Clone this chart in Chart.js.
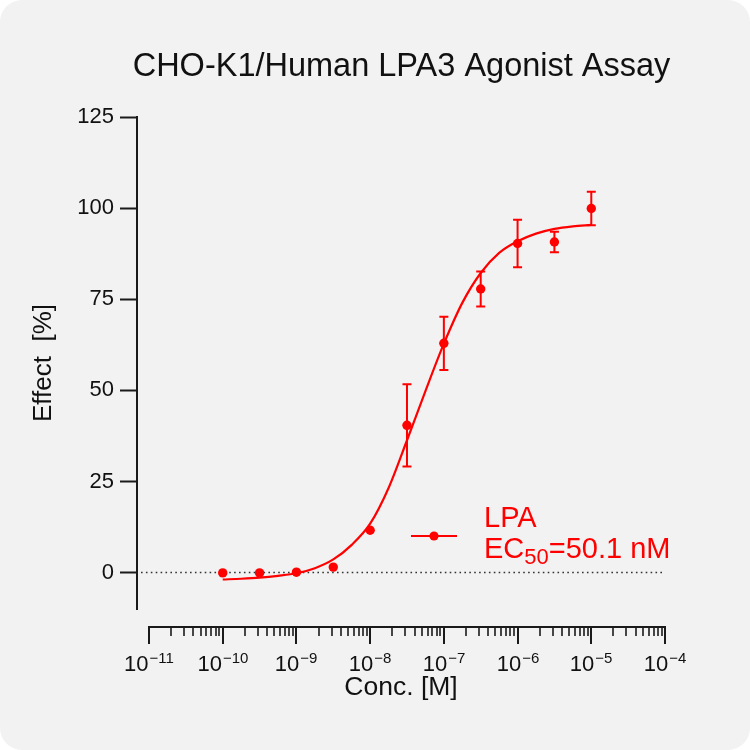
<!DOCTYPE html>
<html><head><meta charset="utf-8">
<script src="https://cdn.jsdelivr.net/npm/chart.js@4.4.1/dist/chart.umd.min.js"></script>
<style>
html,body{margin:0;padding:0;background:#ffffff;}
#wrap{width:750px;height:750px;background:#f2f2f2;border-radius:22px;overflow:hidden;}
canvas{display:block;}
</style></head><body>
<div id="wrap"><canvas id="c" width="750" height="750"></canvas></div>
<script>
// ---- data ----
const titleText = 'CHO-K1/Human LPA3 Agonist Assay';
const xTitle = 'Conc. [M]';
const yTitle = 'Effect  [%]';
const seriesName = 'LPA';
const ec50Text = '=50.1 nM';
const conc = [1e-10, 3.16e-10, 1e-9, 3.16e-9, 1e-8, 3.16e-8, 1e-7, 3.16e-7, 1e-6, 3.16e-6, 1e-5];
const effect = [-0.1, -0.1, 0.1, 1.5, 11.6, 40.4, 62.9, 77.8, 90.3, 90.7, 99.9];
const effectSD = [0, 0, 0, 0, 0, 11.3, 7.3, 4.8, 6.5, 2.8, 4.6];
const curveLogConc = [-10, -9.75, -9.5, -9.25, -9, -8.75, -8.5, -8.25, -8, -7.75, -7.5, -7.25, -7, -6.75, -6.5, -6.25, -6, -5.75, -5.5, -5.25, -5];
const curveEffect = [-1.9, -1.7, -1.4, -0.9, -0.2, 1.2, 3.6, 7.6, 13.4, 23.2, 36.3, 49.8, 62.8, 74.0, 82.2, 87.7, 90.9, 93.0, 94.3, 95.0, 95.4];
const yTicks = [0, 25, 50, 75, 100, 125];
const xTickExponents = [-11, -10, -9, -8, -7, -6, -5, -4];
const minorMultipliers = [2, 3, 4, 5, 6, 7, 8, 9];

const FONT = '"Liberation Sans", Arial, Helvetica, sans-serif';
const AXIS = '#1a1a1a';
const TEXT = '#111111';
const RED = '#ff0000';

const decor = {
  id: 'decor',
  beforeDatasetsDraw(chart) {
    const {ctx, chartArea: ca, scales: {x, y}} = chart;
    const y0 = y.getPixelForValue(0);
    const xEnd = x.getPixelForValue(Math.pow(10, xTickExponents[xTickExponents.length - 1]));
    ctx.save();
    ctx.strokeStyle = '#333333';
    ctx.lineWidth = 1.6;
    ctx.setLineDash([1.6, 3.3]);
    ctx.beginPath();
    ctx.moveTo(ca.left + 4, y0);
    ctx.lineTo(xEnd - 3, y0);
    ctx.stroke();
    ctx.restore();
  },
  afterDatasetsDraw(chart) {
    const {ctx, scales: {x, y}} = chart;
    ctx.save();
    ctx.strokeStyle = RED;
    ctx.lineWidth = 2;
    conc.forEach((c, i) => {
      const sd = effectSD[i];
      if (!sd) return;
      const px = x.getPixelForValue(c);
      const top = y.getPixelForValue(effect[i] + sd);
      const bot = y.getPixelForValue(effect[i] - sd);
      ctx.beginPath();
      ctx.moveTo(px, top); ctx.lineTo(px, bot);
      ctx.moveTo(px - 4.5, top); ctx.lineTo(px + 4.5, top);
      ctx.moveTo(px - 4.5, bot); ctx.lineTo(px + 4.5, bot);
      ctx.stroke();
    });
    ctx.restore();
  },
  afterDraw(chart) {
    const {ctx, chartArea: ca, scales: {x}} = chart;
    ctx.save();
    // chart title, centred over the plot area
    ctx.fillStyle = TEXT;
    ctx.font = '32.5px ' + FONT;
    ctx.textAlign = 'center';
    ctx.textBaseline = 'alphabetic';
    ctx.fillText(titleText, (ca.left + ca.right) / 2 + 0.5, ca.top - 41);

    const axisY = ca.bottom + 18;
    const first = Math.pow(10, xTickExponents[0]);
    const last = Math.pow(10, xTickExponents[xTickExponents.length - 1]);
    ctx.strokeStyle = AXIS;
    ctx.lineWidth = 2;
    ctx.beginPath();
    ctx.moveTo(x.getPixelForValue(first) - 1, axisY);
    ctx.lineTo(x.getPixelForValue(last) + 1, axisY);
    ctx.stroke();
    // major ticks + labels (10 with superscript exponent)
    xTickExponents.forEach(e => {
      const px = Math.round(x.getPixelForValue(Math.pow(10, e)));
      ctx.beginPath();
      ctx.moveTo(px, axisY); ctx.lineTo(px, axisY + 17);
      ctx.stroke();
      ctx.fillStyle = TEXT;
      ctx.textBaseline = 'alphabetic';
      ctx.textAlign = 'left';
      const base = '10';
      const exp = '\u2212' + String(Math.abs(e));
      ctx.font = '22px ' + FONT;
      const wb = ctx.measureText(base).width;
      ctx.font = '15px ' + FONT;
      const we = ctx.measureText(exp).width;
      const start = px - (wb + 1 + we) / 2;
      ctx.font = '22px ' + FONT;
      ctx.fillText(base, start, axisY + 44);
      ctx.font = '15px ' + FONT;
      ctx.fillText(exp, start + wb + 1, axisY + 36);
    });
    // minor ticks
    ctx.lineWidth = 1.6;
    for (let k = 0; k < xTickExponents.length - 1; k++) {
      minorMultipliers.forEach(m => {
        const px = Math.round(x.getPixelForValue(m * Math.pow(10, xTickExponents[k])));
        ctx.beginPath();
        ctx.moveTo(px, axisY); ctx.lineTo(px, axisY + 9);
        ctx.stroke();
      });
    }
    // legend
    const lx = ca.left + 274;
    const ly = ca.top + 419;
    ctx.strokeStyle = RED;
    ctx.lineWidth = 2;
    ctx.beginPath();
    ctx.moveTo(lx, ly); ctx.lineTo(lx + 46, ly);
    ctx.stroke();
    ctx.fillStyle = RED;
    ctx.beginPath();
    ctx.arc(lx + 23, ly, 4.6, 0, Math.PI * 2);
    ctx.fill();
    ctx.textAlign = 'left';
    ctx.textBaseline = 'alphabetic';
    ctx.font = '29px ' + FONT;
    ctx.fillText(seriesName, lx + 73, ly - 9);
    let tx = lx + 73;
    ctx.fillText('EC', tx, ly + 22);
    tx += ctx.measureText('EC').width;
    ctx.font = '22px ' + FONT;
    ctx.fillText('50', tx, ly + 28);
    tx += ctx.measureText('50').width;
    ctx.font = '29px ' + FONT;
    ctx.fillText(ec50Text, tx, ly + 22);
    ctx.restore();
  }
};

new Chart(document.getElementById('c'), {
  type: 'line',
  data: {
    datasets: [
      {
        label: seriesName + ' fit',
        data: curveLogConc.map((e, i) => ({x: Math.pow(10, e), y: curveEffect[i]})),
        borderColor: RED,
        borderWidth: 2.2,
        pointRadius: 0,
        cubicInterpolationMode: 'monotone',
        fill: false
      },
      {
        label: seriesName,
        data: conc.map((c, i) => ({x: c, y: effect[i]})),
        showLine: false,
        pointRadius: 4.7,
        pointBackgroundColor: RED,
        pointBorderWidth: 0,
        borderColor: RED
      }
    ]
  },
  options: {
    responsive: false,
    devicePixelRatio: 1,
    animation: false,
    layout: {padding: {left: 0, right: 85, top: 117, bottom: 0}},
    plugins: {
      legend: {display: false},
      tooltip: {enabled: false},
      title: {display: false}
    },
    scales: {
      x: {
        type: 'logarithmic',
        min: Math.pow(10, -11.163),
        max: 1e-4,
        border: {display: false},
        grid: {display: false},
        ticks: {display: false},
        title: {display: true, text: xTitle, color: TEXT, font: {family: FONT, size: 26.5}, padding: {top: 0, bottom: 46}},
        afterFit(s) { s.height = 141; }
      },
      y: {
        min: -10,
        max: 125,
        afterBuildTicks(s) { s.ticks = yTicks.map(v => ({value: v})); },
        border: {display: true, width: 2, color: AXIS},
        grid: {drawOnChartArea: false, drawTicks: true, tickLength: 17, tickWidth: 2, tickColor: AXIS},
        ticks: {font: {family: FONT, size: 22}, color: TEXT, padding: 6},
        title: {display: true, text: yTitle, color: TEXT, font: {family: FONT, size: 26}, padding: {top: 28, bottom: 0}},
        afterFit(s) { s.width = 137; }
      }
    }
  },
  plugins: [decor]
});
</script>
</body></html>
